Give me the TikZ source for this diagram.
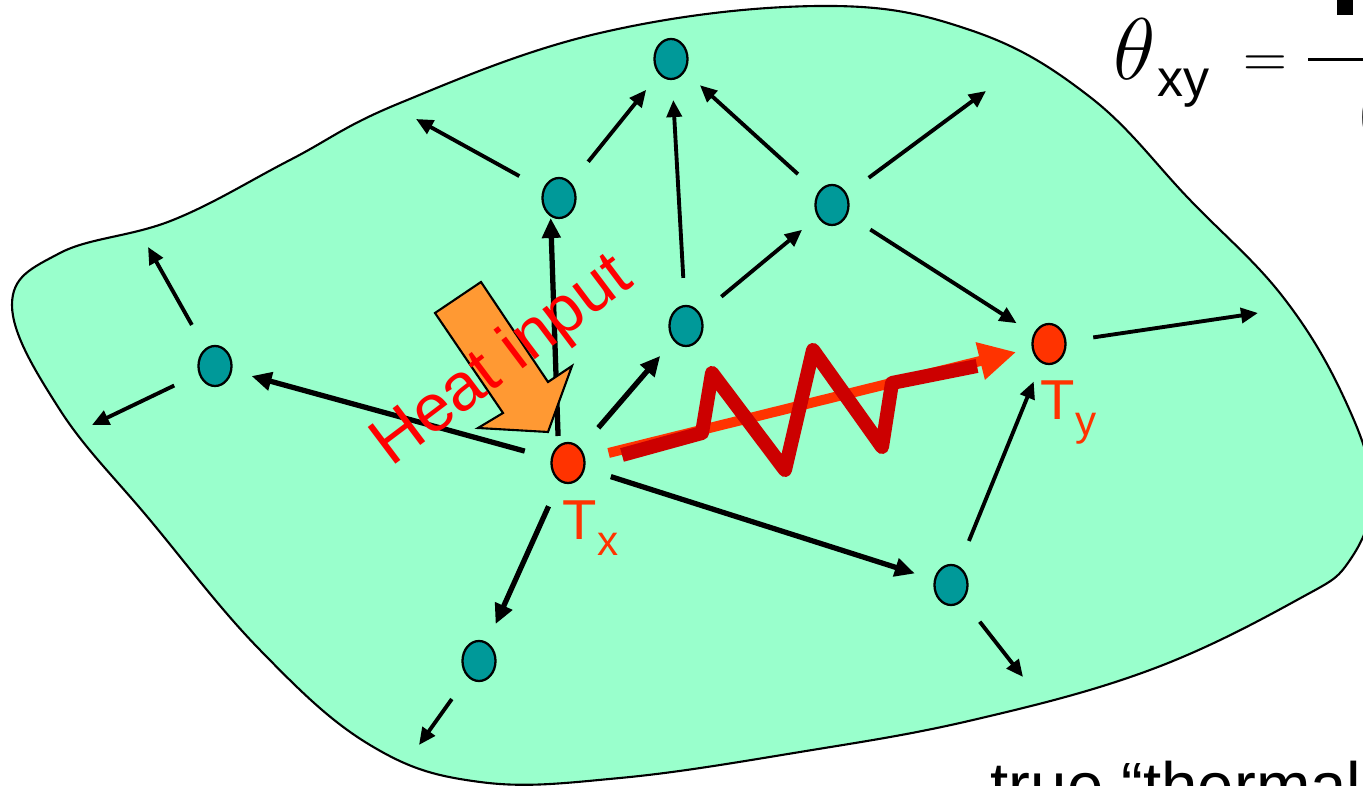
\documentclass[tikz,border=0pt]{standalone}
\usepackage{fontspec}
\setmainfont{Liberation Sans}
\usetikzlibrary{arrows.meta,shapes.geometric}
\definecolor{mint}{HTML}{99FFCC}
\definecolor{tealdot}{HTML}{009999}
\definecolor{hotred}{HTML}{FF3300}
\definecolor{heatorange}{HTML}{FF9933}
\definecolor{wire}{HTML}{CC0000}
\begin{document}
\begin{tikzpicture}[x=0.01cm, y=-0.01cm,
  dot/.style={draw, ellipse, line width=0.65pt, fill=tealdot, minimum width=0.33cm, minimum height=0.40cm, inner sep=0pt},
  hot/.style={dot, fill=hotred},
  arr/.style={line width=1.1pt, -{Triangle[length=0.17cm,width=0.15cm]}, shorten <=0.27cm},
  link/.style={arr, shorten >=0.2cm},
  tlink/.style={link, line width=1.5pt, -{Triangle[length=0.2cm,width=0.18cm]}},
  lbl/.style={text=hotred, font=\fontsize{16}{16}\selectfont, inner sep=0pt, anchor=base west}
]
  \useasboundingbox (0,0) rectangle (1363,786);
  \clip (0,0) rectangle (1363,786);
  \fill[white] (0,0) rectangle (1363,786);

  % the body
  \draw[fill=mint, line width=0.6pt] plot[smooth cycle, tension=0.65] coordinates {
    (12,305) (60,253) (173,220) (290,160) (400,103) (600,33) (820,6) (970,30)
    (1090,97) (1190,200) (1283,297) (1345,400) (1372,490) (1350,560) (1297,600)
    (1150,670) (973,720) (800,752) (620,778) (480,782) (370,745) (260,650)
    (150,520) (60,410)};

  % nodes
  \node[dot] (top) at (671,59) {};
  \node[dot] (upl) at (559,198) {};
  \node[dot] (upr) at (832,205) {};
  \node[dot] (mid) at (686,326) {};
  \node[dot] (lft) at (215,366) {};
  \node[hot] (tx) at (568,463) {};
  \node[hot] (ty) at (1049,344) {};
  \node[dot] (dnl) at (479,661) {};
  \node[dot] (dnr) at (951,585) {};

  \coordinate (c1) at (416,119);
  \coordinate (c2) at (148,247);
  \coordinate (c3) at (92,425);
  \coordinate (c4) at (419,745);
  \coordinate (c5) at (1023,677);
  \coordinate (c6) at (1258,313);
  \coordinate (c7) at (986,91);

  % heat flow
  \draw[link] (upl) -- (top);
  \draw[link] (mid) -- (top);
  \draw[link] (upr) -- (top);
  \draw[link] (mid) -- (upr);
  \draw[link] (upr) -- (ty);
  \draw[link] (dnr) -- (ty);
  \draw[tlink] ([xshift=-0.09cm]tx.center) -- ([xshift=-0.09cm]upl.center);
  \draw[tlink] (tx) -- (mid);
  \draw[tlink] (tx) -- (lft);
  \draw[tlink] (tx) -- (dnl);
  \draw[tlink] (tx) -- (dnr);
  \draw[arr] (upl) -- (c1);
  \draw[arr] (upr) -- (c7);
  \draw[arr] (lft) -- (c2);
  \draw[arr] (lft) -- (c3);
  \draw[arr] (dnl) -- (c4);
  \draw[arr] (dnr) -- (c5);
  \draw[arr] (ty) -- (c6);

  % heat input arrow
  \draw[fill=heatorange, line width=0.6pt, line join=miter]
    (435,313) -- (481,282) -- (548,382) -- (572,366) -- (548,432) -- (478,428) -- (503,413) -- cycle;

  % resistance from Tx to Ty
  \draw[hotred, line width=0.1cm, -{Triangle[length=0.37cm,width=0.36cm]}, shorten <=0.24cm, shorten >=0.16cm] (tx) -- (ty);
  \draw[wire, line width=0.14cm, line join=round]
    (622,455) -- (702,433) -- (712,373) -- (785,470) -- (813,350) -- (882,447) -- (892,383) -- (977,366);

  % labels
  \node[lbl] (txl) at (562,540) {T\raisebox{-0.28em}{\fontsize{12}{12}\selectfont x}};
  \node[lbl] (tyl) at (1040,420) {T\raisebox{-0.28em}{\fontsize{12}{12}\selectfont y}};
  \node[rotate=37, text=red, font=\fontsize{19}{19}\selectfont, inner sep=0pt] (heat) at (503,362) {Heat input};

  % formula
  \node[anchor=base west, inner sep=0pt, font=\fontsize{24}{24}\selectfont] (theta) at (1113,80) {$\theta$};
  \node[anchor=base west, inner sep=0pt, font=\fontsize{14.8}{14.8}\selectfont] (xy) at (1157,97) {xy};
  \node[anchor=base west, inner sep=0pt, font=\fontsize{18}{18}\selectfont] (eq) at (1243,78) {$=$};
  \draw[line width=0.03cm] (1308,60) -- (1370,60);
  \fill (1337,-5) rectangle (1353,15);
  \node[anchor=base west, inner sep=0pt, font=\fontsize{24}{24}\selectfont] (den) at (1357,140) {(};

  \node[anchor=base west, inner sep=0pt, font=\fontsize{18.6}{18.6}\selectfont] (note) at (990,809) {true “thermal};
\end{tikzpicture}
\end{document}
